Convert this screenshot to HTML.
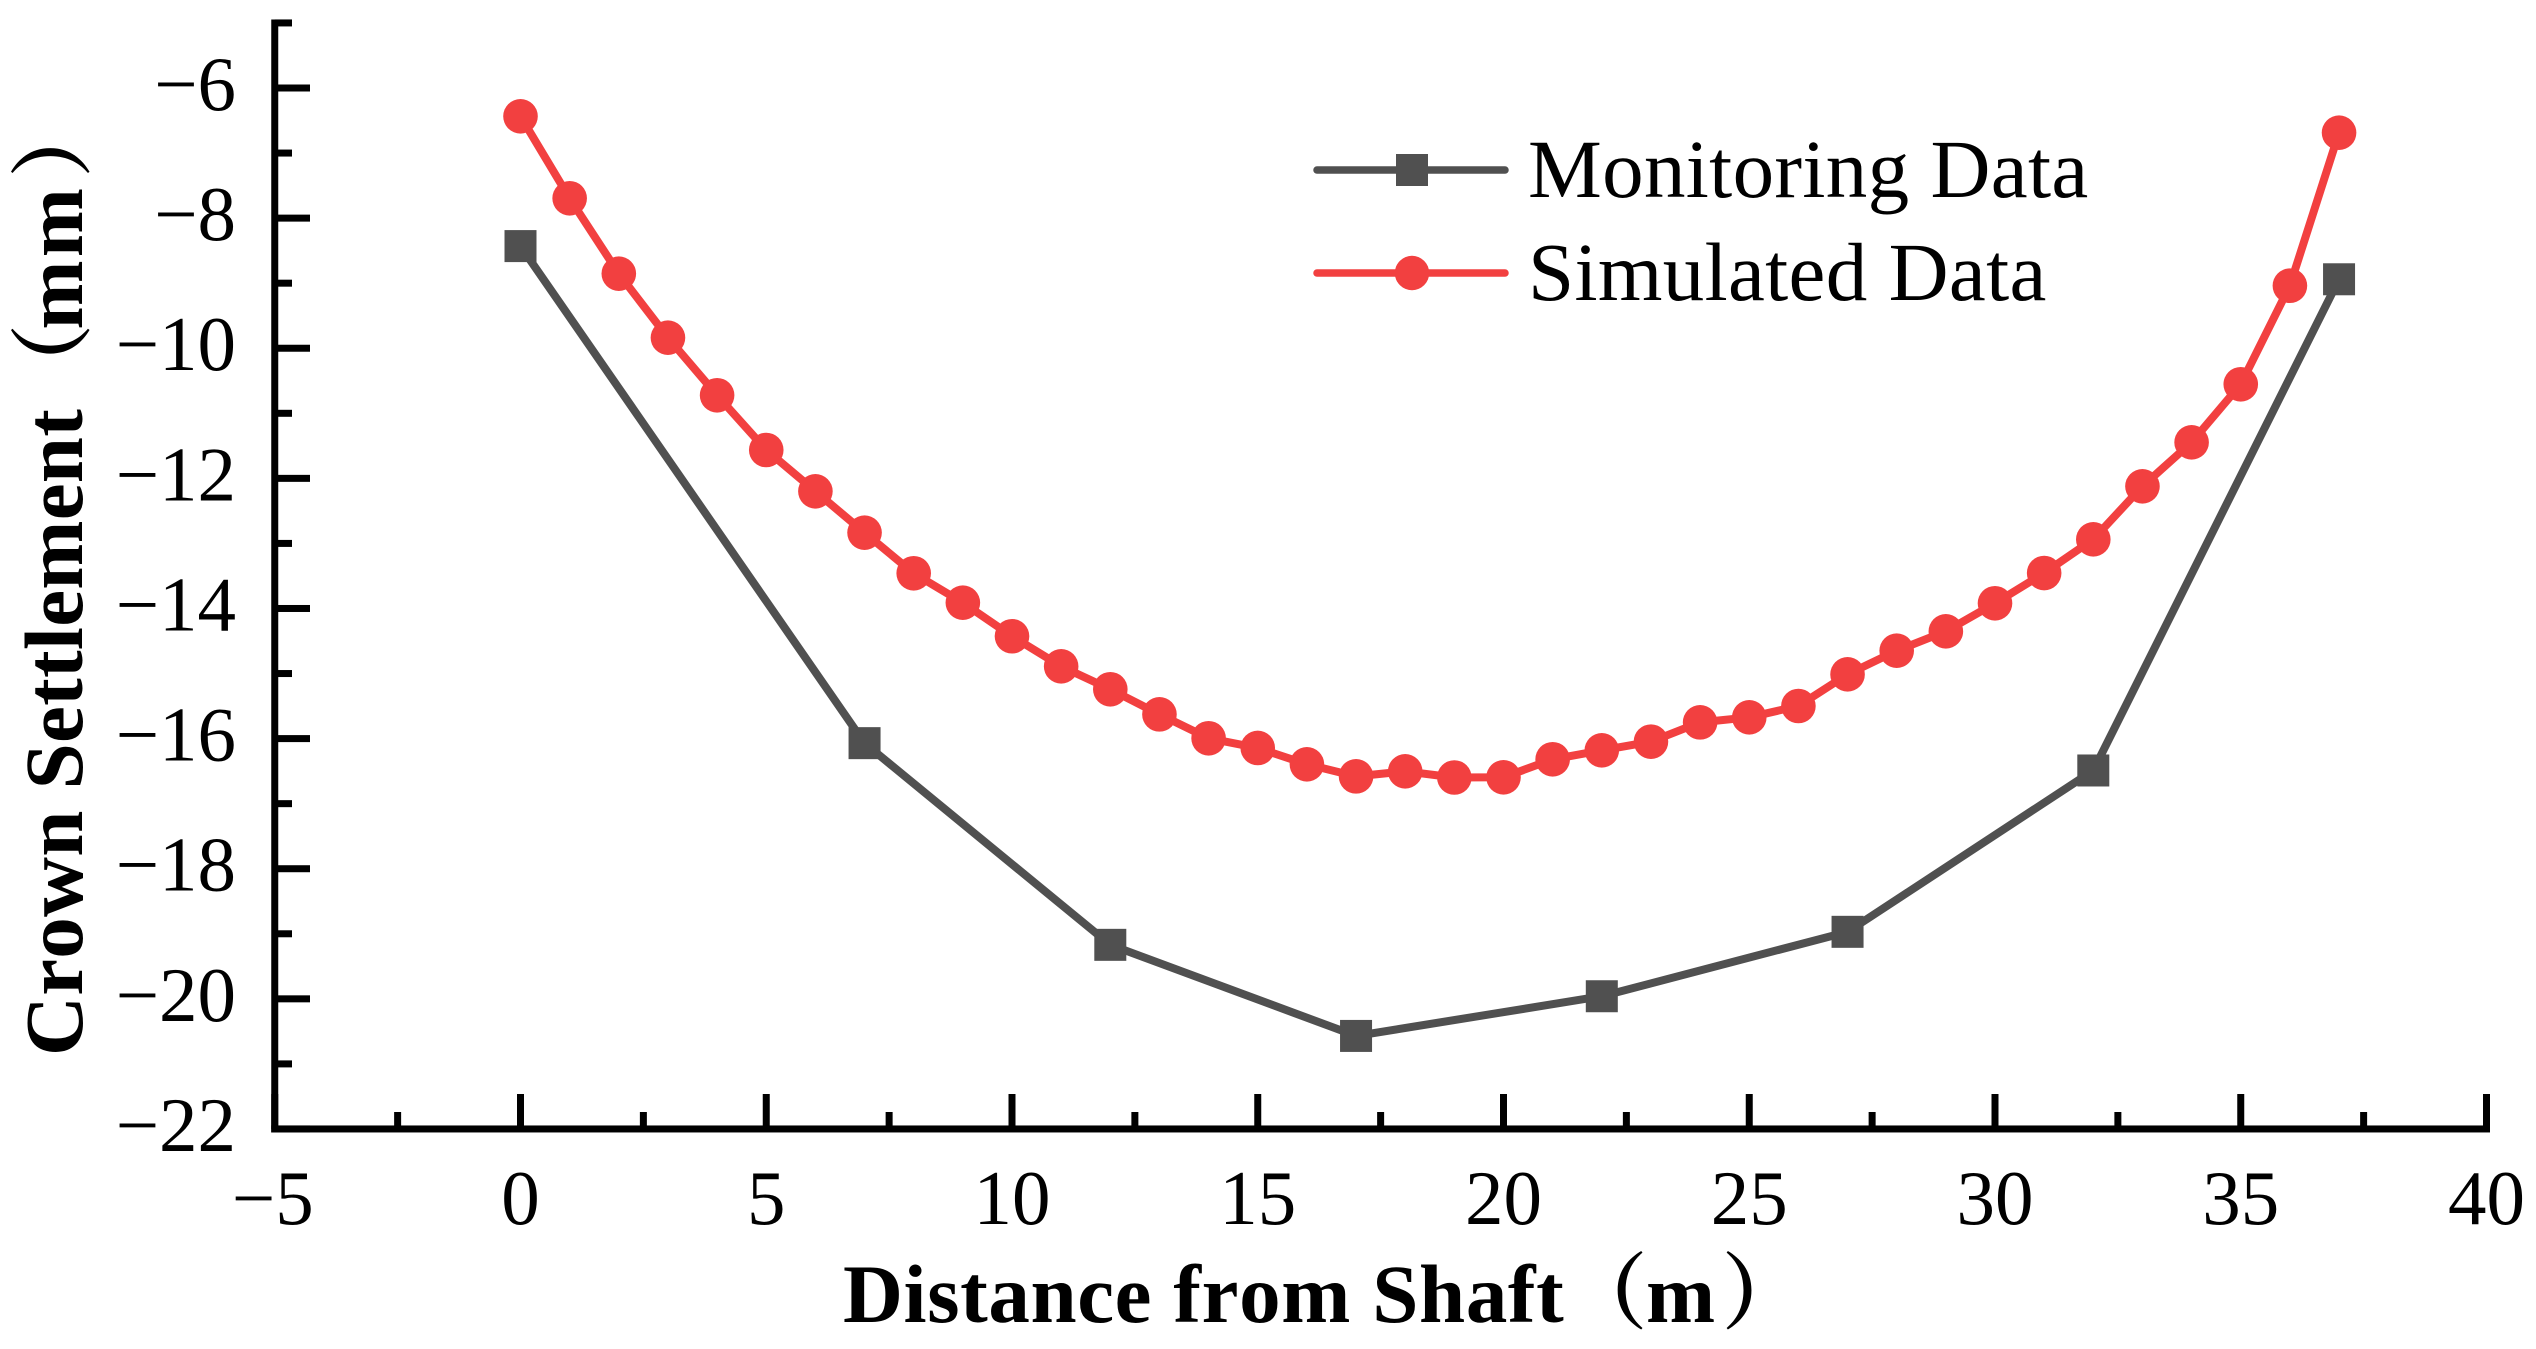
<!DOCTYPE html>
<html lang="en">
<head>
<meta charset="utf-8">
<title>Crown Settlement vs Distance from Shaft</title>
<style>
html,body{margin:0;padding:0;background:#fff;width:2536px;height:1349px;overflow:hidden}
svg{display:block}
text{font-family:"Liberation Serif","Noto Serif CJK SC",serif;fill:#000;font-kerning:none}
.tick-label{font-size:77px}
.legend-label{font-size:83px;letter-spacing:.33px}
.axis-title{font-size:83px;font-weight:bold}
.x-title{letter-spacing:.6px}
.y-title{letter-spacing:.25px}
</style>
</head>
<body>
<svg id="chart" xmlns="http://www.w3.org/2000/svg" width="2536" height="1349" viewBox="0 0 2536 1349">
  <rect x="0" y="0" width="2536" height="1349" fill="#fff"/>
  <g id="series"></g>
  <g id="axes"></g>
  <text class="axis-title x-title" x="843" y="1322">Distance from Shaft<tspan dx="0">（</tspan><tspan dx="-2">m</tspan><tspan dx="6">）</tspan></text>
  <text class="axis-title y-title" transform="translate(82,1056) rotate(-90)">Crown Settlement<tspan dx="2">（</tspan><tspan dx="-6">m</tspan><tspan dx="3">m</tspan><tspan dx="10">）</tspan></text>
  <g>
    <g>
      <line x1="1317" y1="170" x2="1505" y2="170" stroke="#505050" stroke-width="7.5" stroke-linecap="round"/>
      <rect x="1396" y="154" width="32" height="32" fill="#505050"/>
      <text class="legend-label" x="1528" y="197">Monitoring Data</text>
    </g>
    <g>
      <line x1="1317" y1="273" x2="1505" y2="273" stroke="#F24040" stroke-width="7.5" stroke-linecap="round"/>
      <circle cx="1412" cy="273" r="17.2" fill="#F24040"/>
      <text class="legend-label" x="1528" y="300">Simulated Data</text>
    </g>
  </g>
</svg>
<script>
const monitoringX = [0, 7, 12, 17, 22, 27, 32, 37];
const monitoringY = [-8.43, -16.07, -19.17, -20.57, -19.96, -18.97, -16.49, -8.94];
const simulatedX = [0,1,2,3,4,5,6,7,8,9,10,11,12,13,14,15,16,17,18,19,20,21,22,23,24,25,26,27,28,29,30,31,32,33,34,35,36,37];
const simulatedY = [-6.435,-7.695,-8.854,-9.838,-10.723,-11.564,-12.199,-12.835,-13.459,-13.911,-14.427,-14.889,-15.242,-15.627,-15.995,-16.144,-16.395,-16.58,-16.503,-16.598,-16.595,-16.318,-16.18,-16.047,-15.75,-15.673,-15.499,-15.012,-14.649,-14.351,-13.92,-13.455,-12.937,-12.122,-11.446,-10.554,-9.039,-6.687];
const xMajorTicks = [-5, 0, 5, 10, 15, 20, 25, 30, 35, 40];
const xMinorTicks = [-2.5, 2.5, 7.5, 12.5, 17.5, 22.5, 27.5, 32.5, 37.5];
const yMajorTicks = [-6, -8, -10, -12, -14, -16, -18, -20, -22];
const yMinorTicks = [-5, -7, -9, -11, -13, -15, -17, -19, -21];

function xScale(v) { return 520.5 + v * 49.15; }
function yScale(v) { return 88 + (-6 - v) * 65.06; }
function fmt(v) { return v < 0 ? '\u2212' + Math.abs(v) : String(v); }

const NS = 'http://www.w3.org/2000/svg';
const axes = document.getElementById('axes');
const seriesLayer = document.getElementById('series');

function rect(parent, x, y, w, h, fill) {
  const r = document.createElementNS(NS, 'rect');
  r.setAttribute('x', x);
  r.setAttribute('y', y);
  r.setAttribute('width', w);
  r.setAttribute('height', h);
  r.setAttribute('fill', fill);
  parent.appendChild(r);
  return r;
}

const axisLeft = xScale(-5);
const axisBottom = yScale(-22);
const T = 7;

const yLine = rect(axes, axisLeft - T / 2, 19.5, T, axisBottom - 19.5 + T / 2, '#000');



const xLine = rect(axes, axisLeft - T / 2, axisBottom - T / 2, xScale(40) - axisLeft + T, T, '#000');



xMajorTicks.forEach(function (v) {
  const t = rect(axes, xScale(v) - T / 2, 1094, T, axisBottom - 1094, '#000');
  
  
  const l = document.createElementNS(NS, 'text');
  l.setAttribute('class', 'tick-label');
  l.setAttribute('x', xScale(v) - (v < 0 ? 2 : 0));
  l.setAttribute('y', 1224);
  l.setAttribute('text-anchor', 'middle');
  l.textContent = fmt(v);
  
  
  axes.appendChild(l);
});

xMinorTicks.forEach(function (v) {
  const t = rect(axes, xScale(v) - T / 2, 1112, T, axisBottom - 1112, '#000');
  
  
});

yMajorTicks.forEach(function (v) {
  const t = rect(axes, axisLeft, yScale(v) - T / 2, 310 - axisLeft, T, '#000');
  
  
  const l = document.createElementNS(NS, 'text');
  l.setAttribute('class', 'tick-label');
  l.setAttribute('x', 236);
  l.setAttribute('y', yScale(v) + 22);
  l.setAttribute('text-anchor', 'end');
  l.textContent = fmt(v);
  
  
  axes.appendChild(l);
});

yMinorTicks.forEach(function (v) {
  const t = rect(axes, axisLeft, yScale(v) - T / 2, 292 - axisLeft, T, '#000');
  
  
});

function polyline(xs, ys, color) {
  const p = document.createElementNS(NS, 'polyline');
  p.setAttribute('points', xs.map(function (x, i) { return xScale(x) + ',' + yScale(ys[i]); }).join(' '));
  p.setAttribute('fill', 'none');
  p.setAttribute('stroke', color);
  p.setAttribute('stroke-width', 8);
  p.setAttribute('stroke-linejoin', 'round');
  seriesLayer.appendChild(p);
  return p;
}

const monitoringLine = polyline(monitoringX, monitoringY, '#505050');



monitoringX.forEach(function (x, i) {
  const m = rect(seriesLayer, xScale(x) - 16, yScale(monitoringY[i]) - 16, 32, 32, '#505050');
  
  
});

const simulatedLine = polyline(simulatedX, simulatedY, '#F24040');



simulatedX.forEach(function (x, i) {
  const c = document.createElementNS(NS, 'circle');
  c.setAttribute('cx', xScale(x));
  c.setAttribute('cy', yScale(simulatedY[i]));
  c.setAttribute('r', 17.3);
  c.setAttribute('fill', '#F24040');
  
  
  seriesLayer.appendChild(c);
});
</script>
</body>
</html>
